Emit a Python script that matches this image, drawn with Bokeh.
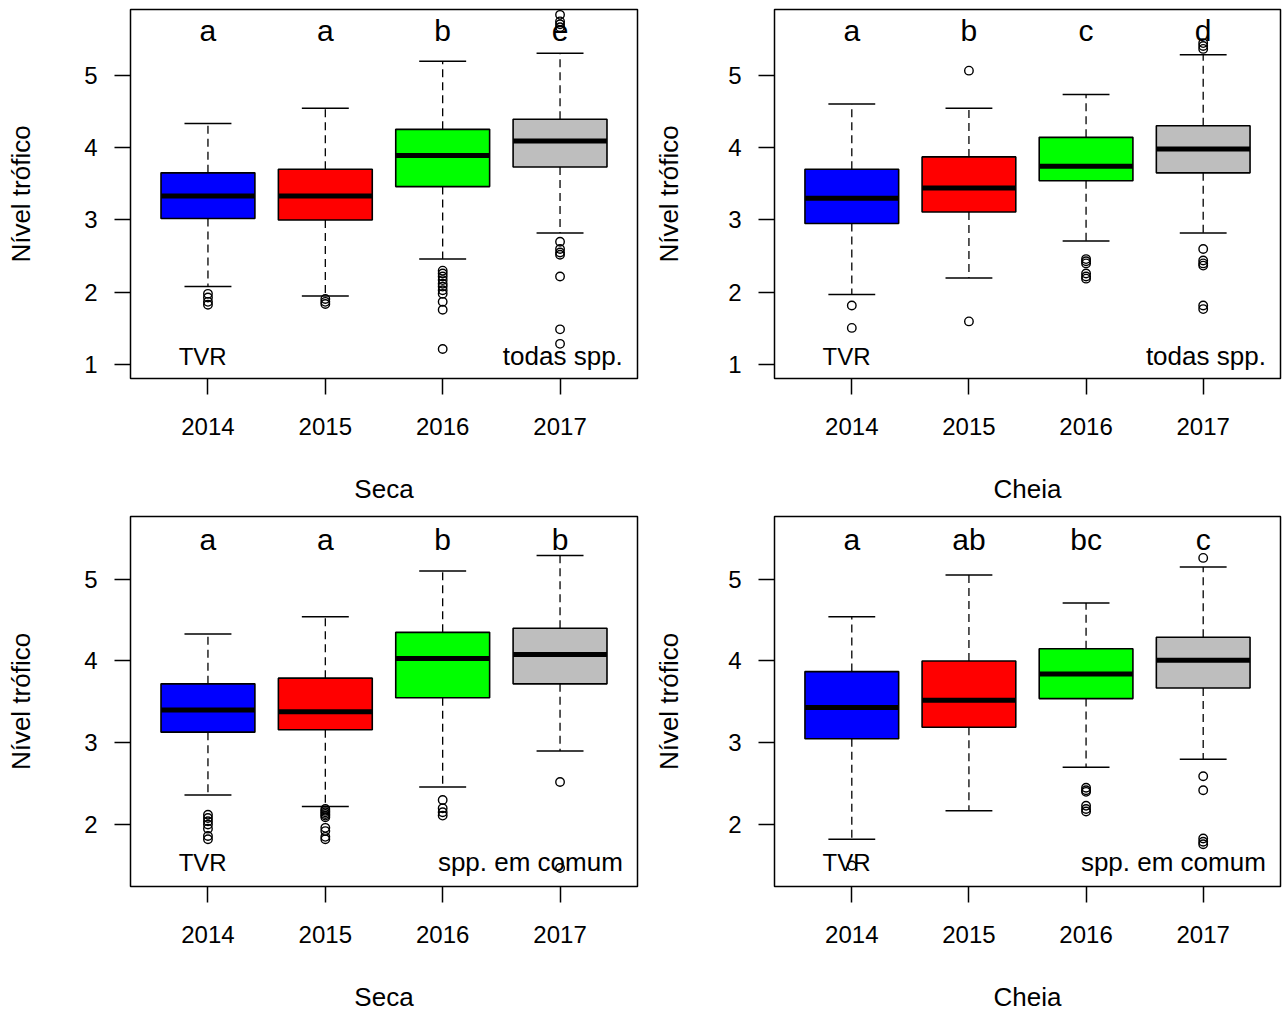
from bokeh.plotting import figure
from bokeh.layouts import column, row
from bokeh.models import FixedTicker, Range1d
from bokeh.core.properties import value
from bokeh.embed import file_html
from bokeh.resources import INLINE

# ---------------- data ----------------
years = ["2014", "2015", "2016", "2017"]
box_colors = ["#0000FF", "#FF0000", "#00FF00", "#BEBEBE"]

# Seca - todas spp.
seca_todas_low = [2.08, 1.95, 2.46, 2.82]
seca_todas_q1 = [3.02, 3.00, 3.46, 3.73]
seca_todas_med = [3.33, 3.33, 3.89, 4.09]
seca_todas_q3 = [3.65, 3.70, 4.25, 4.39]
seca_todas_high = [4.33, 4.54, 5.19, 5.30]
seca_todas_out = [
    [1.98, 1.93, 1.87, 1.83],
    [1.91, 1.87, 1.84],
    [2.30, 2.26, 2.22, 2.17, 2.12, 2.08, 2.03, 1.98, 1.87, 1.76, 1.22],
    [5.83, 5.74, 5.70, 5.66, 2.70, 2.60, 2.55, 2.52, 2.22, 1.49, 1.29],
]
seca_todas_letters = ["a", "a", "b", "e"]

# Cheia - todas spp.
cheia_todas_low = [1.97, 2.20, 2.71, 2.82]
cheia_todas_q1 = [2.95, 3.11, 3.54, 3.65]
cheia_todas_med = [3.30, 3.44, 3.74, 3.98]
cheia_todas_q3 = [3.70, 3.87, 4.14, 4.30]
cheia_todas_high = [4.60, 4.54, 4.73, 5.28]
cheia_todas_out = [
    [1.82, 1.51],
    [5.06, 1.60],
    [2.46, 2.43, 2.40, 2.26, 2.22, 2.19],
    [5.44, 5.40, 5.36, 2.60, 2.44, 2.40, 2.37, 1.82, 1.77],
]
cheia_todas_letters = ["a", "b", "c", "d"]

# Seca - spp. em comum
seca_comum_low = [2.36, 2.22, 2.46, 2.90]
seca_comum_q1 = [3.13, 3.16, 3.55, 3.72]
seca_comum_med = [3.40, 3.38, 4.03, 4.08]
seca_comum_q3 = [3.72, 3.79, 4.35, 4.40]
seca_comum_high = [4.33, 4.54, 5.10, 5.29]
seca_comum_out = [
    [2.12, 2.08, 2.04, 2.00, 1.95, 1.86, 1.82],
    [2.19, 2.17, 2.15, 2.13, 2.11, 2.09, 1.96, 1.92, 1.85, 1.82],
    [2.30, 2.20, 2.15, 2.11],
    [2.52, 1.47],
]
seca_comum_letters = ["a", "a", "b", "b"]

# Cheia - spp. em comum
cheia_comum_low = [1.82, 2.17, 2.70, 2.80]
cheia_comum_q1 = [3.05, 3.19, 3.54, 3.67]
cheia_comum_med = [3.43, 3.52, 3.84, 4.01]
cheia_comum_q3 = [3.87, 4.00, 4.15, 4.29]
cheia_comum_high = [4.54, 5.05, 4.71, 5.15]
cheia_comum_out = [
    [1.50],
    [],
    [2.45, 2.42, 2.40, 2.23, 2.19, 2.16],
    [5.26, 2.59, 2.42, 1.83, 1.79, 1.76],
]
cheia_comum_letters = ["a", "ab", "bc", "c"]

FONT = "Liberation Sans"


def make_panel(low, q1, med, q3, high, outs, letters, xlabel, tag,
               yticks, yrange, letter_y, tag_y, left_col, top_row):
    xs = [1, 2, 3, 4]
    p = figure(
        frame_width=507 if left_col else 506,
        frame_height=369 if top_row else 370,
        min_border_left=130 if left_col else 124,
        min_border_right=13 if left_col else 4,
        min_border_top=9 if top_row else 8,
        min_border_bottom=130 if top_row else 124,
        x_range=Range1d(0.34, 4.66),
        y_range=Range1d(*yrange),
        output_backend="svg",
        toolbar_location=None,
        background_fill_color="white",
        border_fill_color="white",
    )
    p.grid.visible = False
    p.outline_line_color = "black"
    p.outline_line_width = 1.5

    # axes
    p.xaxis.ticker = FixedTicker(ticks=xs)
    p.xaxis.major_label_overrides = {x: y for x, y in zip(xs, years)}
    p.yaxis.ticker = FixedTicker(ticks=yticks)
    for ax in (p.xaxis[0], p.yaxis[0]):
        ax.axis_line_color = None
        ax.major_tick_in = 0
        ax.major_tick_out = 16
        ax.major_tick_line_color = "black"
        ax.major_tick_line_width = 1.5
        ax.minor_tick_line_color = None
        ax.major_label_text_font = FONT
        ax.major_label_text_font_size = "24px"
        ax.major_label_text_color = "black"
        ax.axis_label_text_font = FONT
        ax.axis_label_text_font_size = "26px"
        ax.axis_label_text_font_style = "normal"
        ax.axis_label_text_color = "black"
    p.xaxis.major_label_standoff = 23
    p.yaxis.major_label_standoff = 17
    p.xaxis.axis_label = xlabel
    p.xaxis.axis_label_standoff = 36
    p.yaxis.axis_label = "Nível trófico"
    p.yaxis.axis_label_standoff = 45 if left_col else 41

    # whiskers (dashed)
    p.segment(x0=xs, y0=q3, x1=xs, y1=high, line_color="black",
              line_width=1.3, line_dash="8 5")
    p.segment(x0=xs, y0=q1, x1=xs, y1=low, line_color="black",
              line_width=1.3, line_dash="8 5")
    # caps
    p.segment(x0=[x - 0.2 for x in xs], y0=high, x1=[x + 0.2 for x in xs],
              y1=high, line_color="black", line_width=1.5)
    p.segment(x0=[x - 0.2 for x in xs], y0=low, x1=[x + 0.2 for x in xs],
              y1=low, line_color="black", line_width=1.5)
    # boxes
    p.vbar(x=xs, width=0.8, bottom=q1, top=q3, fill_color=box_colors,
           line_color="black", line_width=1.6)
    # medians
    p.segment(x0=[x - 0.4 for x in xs], y0=med, x1=[x + 0.4 for x in xs],
              y1=med, line_color="black", line_width=5)
    # outliers
    ox, oy = [], []
    for x, vals in zip(xs, outs):
        ox += [x] * len(vals)
        oy += vals
    p.scatter(ox, oy, marker="circle", size=8.5, fill_color=None,
              line_color="black", line_width=1.4)

    # letters
    p.text(x=xs, y=[letter_y] * 4, text=letters, text_align="center",
           text_baseline="alphabetic", text_font=value(FONT),
           text_font_size="30px", text_color="black")
    # annotations
    p.text(x=[0.955], y=[tag_y], text=["TVR"], text_align="center",
           text_baseline="alphabetic", text_font=value(FONT),
           text_font_size="24px", text_color="black")
    p.text(x=[4.535], y=[tag_y], text=[tag], text_align="right",
           text_baseline="alphabetic", text_font=value(FONT),
           text_font_size="26px", text_color="black")
    return p


p1 = make_panel(seca_todas_low, seca_todas_q1, seca_todas_med, seca_todas_q3,
                seca_todas_high, seca_todas_out, seca_todas_letters, "Seca",
                "todas spp.", [1, 2, 3, 4, 5], (0.812, 5.904), 5.61, 1.12,
                True, True)
p2 = make_panel(cheia_todas_low, cheia_todas_q1, cheia_todas_med, cheia_todas_q3,
                cheia_todas_high, cheia_todas_out, cheia_todas_letters, "Cheia",
                "todas spp.", [1, 2, 3, 4, 5], (0.812, 5.904), 5.61, 1.12,
                False, True)
p3 = make_panel(seca_comum_low, seca_comum_q1, seca_comum_med, seca_comum_q3,
                seca_comum_high, seca_comum_out, seca_comum_letters, "Seca",
                "spp. em comum", [2, 3, 4, 5], (1.243, 5.766), 5.49, 1.54,
                True, False)
p4 = make_panel(cheia_comum_low, cheia_comum_q1, cheia_comum_med, cheia_comum_q3,
                cheia_comum_high, cheia_comum_out, cheia_comum_letters, "Cheia",
                "spp. em comum", [2, 3, 4, 5], (1.243, 5.766), 5.49, 1.54,
                False, False)

layout = column(row(p1, p2), row(p3, p4))
open("out.html", "w").write(file_html(layout, INLINE))
